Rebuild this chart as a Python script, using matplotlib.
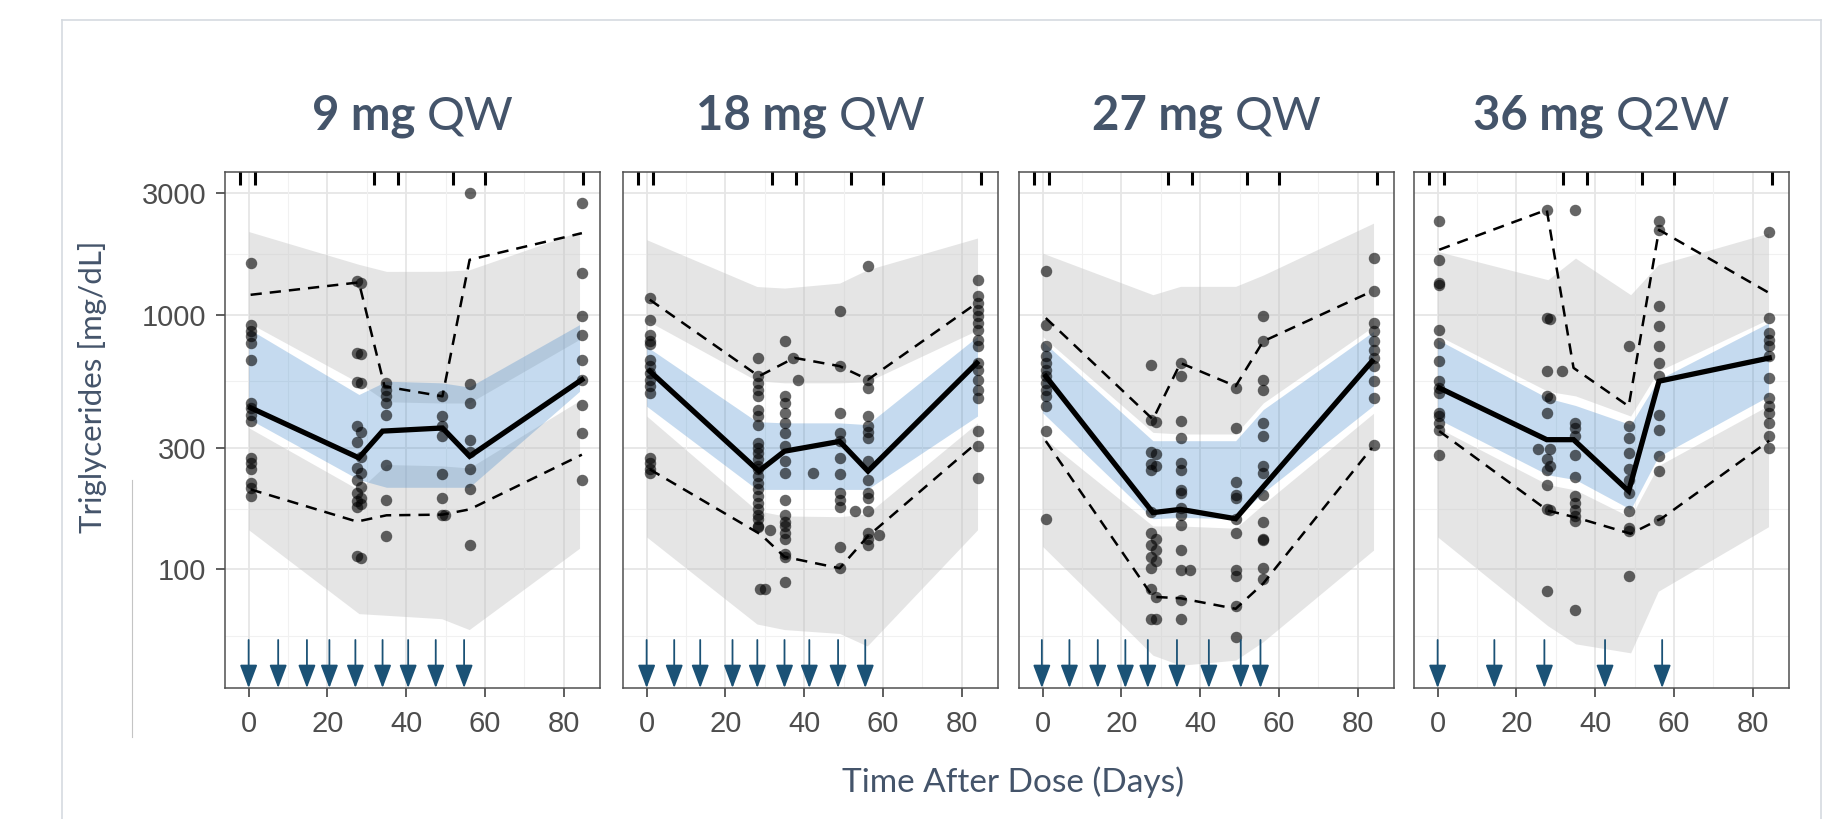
import matplotlib
matplotlib.use("Agg")
import matplotlib.pyplot as plt
from matplotlib.lines import Line2D
from matplotlib.ticker import NullLocator

# Panel titles (bold dose part + regular regimen part)
dose_txt = ['9 mg', '18 mg', '27 mg', '36 mg']
regimen_txt = ['QW', 'QW', 'QW', 'Q2W']

# Dosing days (arrows at the bottom of each panel)
doses_9 = [0, 7.5, 14.8, 20.5, 27.1, 34, 40.5, 47.5, 54.7]
doses_18 = [0, 7, 13.6, 21.8, 28.1, 35, 41.3, 48.6, 55.5]
doses_27 = [-0.2, 6.8, 14, 21, 26.7, 34.1, 42.2, 50.3, 55.3]
doses_36 = [0, 14.4, 27.1, 42.5, 57]

# Bin separators (rug at the top)
bin_sep = [-2.3, 1.5, 31.8, 37.8, 51.8, 60, 85]

# Observed data: sampling day -> triglyceride values (mg/dL)
obs_9 = {
    0.5: [1594, 914, 860, 822, 774, 666, 450, 430, 405, 382, 274, 262, 247, 219, 209, 194],
    27.6: [1350, 710, 545, 365, 315, 250, 225, 200, 185, 175, 113],
    28.6: [1330, 700, 540, 345, 275, 240, 210, 190, 180, 111],
    34.8: [540, 508, 478, 450, 405, 258, 188, 135],
    49.1: [478, 400, 365, 333, 236, 191, 164],
    49.9: [164],
    56.2: [3000, 532, 450, 323, 290, 247, 206, 125],
    84.6: [2741, 1457, 985, 835, 666, 556, 443, 344, 225],
}
obs_18 = {
    0.8: [1162, 956, 835, 786, 765, 666, 628, 590, 556, 524, 493, 274, 262, 247, 238],
    28.2: [677, 573, 540, 508, 478, 424, 400, 370, 314, 300, 287, 270, 254, 247,
           233, 219, 206, 194, 183, 172, 164, 157, 148, 146],
    28.8: [84], 30.0: [84], 31.2: [143],
    35.0: [786, 478, 450, 412, 376, 344, 305, 266, 240, 188, 164, 154, 148, 139, 132, 115, 112, 89],
    37.2: [677], 38.3: [556],
    42.2: [240],
    49.0: [1030, 628, 412, 344, 320, 274, 236, 200, 188, 175, 122, 101],
    53.0: [170],
    56.2: [1547, 556, 516, 400, 365, 345, 328, 266, 225, 200, 191, 170, 139, 132, 125],
    59.0: [137],
    84.0: [1372, 1180, 1110, 1046, 985, 928, 873, 798, 752, 646, 609, 556, 508, 472, 349, 305, 229],
}
obs_27 = {
    0.8: [1479, 914, 751, 687, 646, 608, 573, 540, 508, 478, 437, 349, 157],
    27.6: [636, 385, 290, 260, 245, 168, 139, 125, 112, 101, 84, 64],
    28.8: [380, 285, 255, 132, 119, 108, 78, 64],
    35.0: [646, 573, 382, 328, 262, 245, 205, 200, 174, 163, 149, 119, 99, 76, 64],
    37.4: [99],
    49.0: [516, 359, 220, 196, 190, 158, 139, 99, 94, 72, 54],
    56.0: [985, 786, 556, 508, 376, 333, 254, 240, 196, 153, 132, 130, 101, 92],
    84.0: [1668, 1235, 928, 860, 786, 729, 677, 627, 548, 471, 309],
}
obs_36 = {
    0.4: [2323, 1643, 1331, 1305, 873, 774, 656, 548, 516, 493, 412, 400, 376, 354, 282],
    25.5: [296],
    27.7: [2582, 970, 599, 478, 412, 270, 245, 215, 172, 82],
    28.6: [960, 470, 296, 254, 171],
    31.5: [599],
    34.8: [2582, 376, 359, 333, 282, 231, 194, 183, 171, 162, 155, 69],
    48.6: [751, 365, 328, 286, 247, 225, 200, 170, 145, 141, 94],
    56.2: [2323, 2154, 1078, 900, 751, 646, 573, 405, 354, 278, 243, 156],
    84.2: [2121, 970, 847, 798, 751, 687, 565, 471, 437, 412, 376, 333, 300],
}

# Observed percentiles (median solid, 5th/95th dashed)
med_days = [[0.5, 28, 34, 49.2, 56.1, 84.6], [0.8, 28.5, 35, 49, 56.2, 83.8],
            [0.8, 28, 35, 49, 56, 83.6], [0.4, 27.7, 34.5, 48.5, 56.2, 84.2]]
obs_med = [[431, 274, 349, 359, 278, 556], [600, 243, 291, 318, 243, 646],
           [573, 167, 172, 158, 211, 656], [516, 323, 323, 203, 548, 676]]
p95_days = [[0.5, 28, 34.5, 49.2, 56.1, 84.6], [0.8, 28.5, 37.5, 49, 56.2, 83.8],
            [0.8, 28, 35, 49, 56, 83.6], [0.4, 27.7, 34.5, 48.5, 56.2, 84.2]]
obs_p95 = [[1197, 1339, 523, 478, 1643, 2090], [1145, 573, 677, 628, 556, 1110],
           [970, 388, 646, 524, 786, 1235], [1799, 2582, 618, 437, 2154, 1216]]
p5_days = [[0.5, 27.5, 35, 49.2, 56.1, 84.6], [0.8, 29, 35, 49, 56.2, 83.8],
           [0.8, 28, 35, 49, 56, 83.6], [0.4, 28, 35, 49, 57, 84.2]]
obs_p5 = [[206, 154, 163, 164, 172, 282], [247, 137, 112, 101, 135, 314],
          [319, 78, 77, 70, 88, 300], [349, 170, 160, 138, 159, 320]]

# Simulated confidence bands (grey: 5th/95th percentile CI, blue: median CI)
band_days = [0, 28, 35, 49, 56, 84]
ci95_hi = [[2121, 1576, 1479, 1480, 1500, 2121], [1970, 1290, 1272, 1331, 1500, 2000],
           [1744, 1198, 1292, 1292, 1431, 2288], [1771, 1372, 1668, 1198, 1571, 2090]]
ci95_lo = [[930, 540, 455, 450, 450, 800], [950, 550, 540, 540, 545, 870],
           [820, 345, 340, 340, 450, 900], [830, 500, 480, 400, 600, 960]]
cimed_hi = [[880, 486, 548, 540, 520, 914], [750, 380, 376, 376, 370, 822],
            [786, 320, 320, 320, 424, 860], [798, 470, 440, 370, 556, 928]]
cimed_lo = [[390, 225, 210, 210, 210, 500], [437, 206, 206, 206, 206, 400],
            [412, 158, 160, 158, 200, 440], [390, 235, 225, 172, 277, 478]]
ci5_hi = [[360, 205, 258, 255, 250, 460], [400, 170, 162, 161, 165, 376],
          [330, 148, 148, 145, 180, 410], [360, 215, 205, 160, 255, 440]]
ci5_lo = [[143, 67, 66, 64, 58, 121], [134, 61, 58, 56, 50, 143],
          [123, 46, 42, 44, 52, 119], [134, 60, 51, 47, 82, 147]]

obs_all = [obs_9, obs_18, obs_27, obs_36]
doses_all = [doses_9, doses_18, doses_27, doses_36]

W, H = 1825, 819
TXT = '#44546A'
ARROW = '#1B5276'
fig = plt.figure(figsize=(W / 100, H / 100), dpi=100)

panel_left = [225, 623, 1019, 1414]
panel_w, top, bottom = 375, 171.5, 688
axes = []
for i in range(4):
    ax = fig.add_axes([panel_left[i] / W, 1 - bottom / H, panel_w / W, (bottom - top) / H])
    axes.append(ax)
    ax.set_yscale('log')
    ax.set_ylim(34.2, 3650)
    ax.set_xlim(-6, 89.2)

    # grid (ggplot style, drawn under everything)
    for y in [100, 300, 1000, 3000]:
        ax.axhline(y, color='#E6E6E6', lw=1.3, zorder=0)
    for y in [54.77, 173.2, 547.7, 1732]:
        ax.axhline(y, color='#F1F1F1', lw=0.8, zorder=0)
    for x in [0, 20, 40, 60, 80]:
        ax.axvline(x, color='#E6E6E6', lw=1.3, zorder=0)
    for x in [10, 30, 50, 70]:
        ax.axvline(x, color='#F1F1F1', lw=0.8, zorder=0)

    # bands
    ax.fill_between(band_days, ci95_lo[i], ci95_hi[i], color='#BFBFBF', alpha=0.4, lw=0, zorder=1)
    ax.fill_between(band_days, ci5_lo[i], ci5_hi[i], color='#BFBFBF', alpha=0.4, lw=0, zorder=1)
    ax.fill_between(band_days, cimed_lo[i], cimed_hi[i], color='#4187CA', alpha=0.3, lw=0, zorder=2)

    # observations
    for d, vals in obs_all[i].items():
        ax.scatter([d] * len(vals), vals, s=68, color='black', alpha=0.6, lw=0, zorder=3)

    # observed percentiles
    ax.plot(med_days[i], obs_med[i], color='black', lw=3.8, zorder=4, solid_joinstyle='miter')
    ax.plot(p95_days[i], obs_p95[i], color='black', lw=1.8, dashes=(4.5, 3.2), zorder=4)
    ax.plot(p5_days[i], obs_p5[i], color='black', lw=1.8, dashes=(4.5, 3.2), zorder=4)

    # bin separators
    ax.vlines(bin_sep, 1 - 13 / (bottom - top), 1, transform=ax.get_xaxis_transform(),
              color='black', lw=2.2, zorder=5)

    # dosing arrows
    tr = ax.get_xaxis_transform()
    for d in doses_all[i]:
        ax.annotate('', xy=(d, 0), xytext=(d, 0.093), xycoords=tr, textcoords=tr,
                    arrowprops=dict(arrowstyle='-|>,head_length=0.53,head_width=0.2',
                                    color=ARROW, lw=1.3, shrinkA=0, shrinkB=0,
                                    mutation_scale=27),
                    annotation_clip=False, zorder=6)

    ax.set_yticks([100, 300, 1000, 3000])
    ax.set_yticklabels(['100', '300', '1000', '3000'])
    ax.yaxis.set_minor_locator(NullLocator())
    ax.set_xticks([0, 20, 40, 60, 80])
    ax.tick_params(axis='both', length=6.5, width=1.1, color='#333333',
                   labelsize=21, labelcolor='#4D4D4D')
    ax.tick_params(axis='x', pad=9)
    ax.tick_params(axis='y', pad=7)
    for lab in ax.get_xticklabels() + ax.get_yticklabels():
        lab.set_family('Liberation Sans')
    if i > 0:
        ax.tick_params(axis='y', left=False, labelleft=False)
    for sp in ax.spines.values():
        sp.set_color('#505050')
        sp.set_linewidth(1.1)
    ax.set_facecolor('white')

# panel titles: bold dose + regular regimen, centered over each panel
r = fig.canvas.get_renderer()
for i in range(4):
    cx = (panel_left[i] + panel_w / 2) / W
    yb = 1 - 130 / H
    tb = fig.text(0, yb, dose_txt[i], fontsize=34, fontweight='bold', family='Lato',
                  color=TXT, ha='left', va='baseline')
    tr_ = fig.text(0, yb, regimen_txt[i], fontsize=34, family='Lato',
                   color=TXT, ha='left', va='baseline')
    wb = tb.get_window_extent(r).width
    wr = tr_.get_window_extent(r).width
    gap = 0.25 * 34 * 100 / 72
    x0 = cx * W - (wb + gap + wr) / 2
    tb.set_x(x0 / W)
    tr_.set_x((x0 + wb + gap) / W)

fig.text(93 / W, 1 - 387 / H, 'Triglycerides [mg/dL]', rotation=90, ha='center', va='center',
         fontsize=22.5, family='Lato', color=TXT)
fig.text(1013 / W, 1 - 782 / H, 'Time After Dose (Days)', ha='center', va='center',
         fontsize=24, family='Lato', color=TXT)


def fline(x0, y0, x1, y1, color, lw):
    fig.add_artist(Line2D([x0 / W, x1 / W], [1 - y0 / H, 1 - y1 / H],
                          transform=fig.transFigure, color=color, lw=lw))


# slide frame lines
fline(62, 20, 1821, 20, '#D5DAE0', 1.2)
fline(62, 20, 62, 819, '#D5DAE0', 1.2)
fline(1821, 20, 1821, 819, '#D5DAE0', 1.2)
fline(132, 480, 132, 737, '#C4C4C4', 0.8)

fig.savefig('out.png', dpi=100)
